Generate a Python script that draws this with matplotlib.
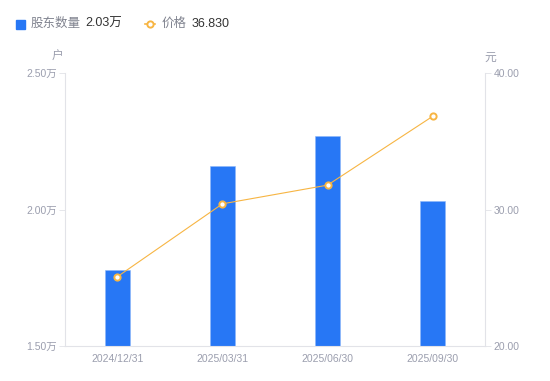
import matplotlib.pyplot as plt
from matplotlib.lines import Line2D
import numpy as np

plt.rcParams['font.family'] = ['Liberation Sans', 'Noto Sans CJK SC', 'DejaVu Sans']

dates = ['2024/12/31', '2025/03/31', '2025/06/30', '2025/09/30']
holders = [1.78, 2.16, 2.27, 2.03]   # 万户
prices = [25.08, 30.42, 31.79, 36.83]  # 元

left_ticks = [1.5, 2.0, 2.5]
left_labels = ['1.50万', '2.00万', '2.50万']
right_ticks = [20, 30, 40]
right_labels = ['20.00', '30.00', '40.00']

bar_color = '#2777F5'
line_color = '#F7B543'
tick_color = '#9B9EAE'
spine_color = '#E2E3E8'

fig = plt.figure(figsize=(5.5, 3.81), dpi=100)
ax = fig.add_axes([0.118, 0.092, 0.764, 0.716])
ax2 = ax.twinx()

x = np.arange(len(dates))
ax.bar(x, holders, width=0.24, color=bar_color, edgecolor='#8db8fa', linewidth=0.4, zorder=2)
ax.set_xlim(-0.5, len(dates) - 0.5)
ax.set_ylim(1.5, 2.5)
ax.set_yticks(left_ticks)
ax.set_yticklabels(left_labels)
ax.set_xticks(x)
ax.set_xticklabels(dates)

ax2.plot(x, prices, color=line_color, linewidth=0.8, marker='o', markersize=4.5,
         markerfacecolor='white', markeredgecolor=line_color, markeredgewidth=1.4, zorder=3)
ax2.set_ylim(20, 40)
ax2.set_yticks(right_ticks)
ax2.set_yticklabels(right_labels)

for a in (ax, ax2):
    for s in a.spines.values():
        s.set_visible(False)
    a.tick_params(labelsize=7.5, colors=tick_color, length=4, width=0.6)
ax.spines['left'].set_visible(True)
ax.spines['left'].set_color(spine_color)
ax.spines['bottom'].set_visible(True)
ax.spines['bottom'].set_color(spine_color)
ax2.spines['right'].set_visible(True)
ax2.spines['right'].set_color(spine_color)
ax.tick_params(axis='y', color=spine_color, pad=2)
ax2.tick_params(axis='y', color=spine_color, pad=2)
ax.tick_params(axis='x', length=0, pad=6)

# unit labels above the two y axes
ax.text(-0.017, 1.058, '户', transform=ax.transAxes, fontsize=8.5, color=tick_color, ha='center', va='center')
ax2.text(1.012, 1.058, '元', transform=ax2.transAxes, fontsize=8.5, color=tick_color, ha='center', va='center')

# legend row at the top
ly = 1 - 24 / 381
fig.patches.append(plt.Rectangle((16 / 550, ly - 4.5 / 381), 9 / 550, 9 / 381,
                                 transform=fig.transFigure, color=bar_color, figure=fig))
fig.text(31 / 550, ly, '股东数量', fontsize=9, color='#80838f', va='center')
fig.text(85 / 550, ly, '2.03万', fontsize=9, color='#333333', va='center')
fig.lines.append(Line2D([145 / 550, 155 / 550], [ly, ly], transform=fig.transFigure,
                        color=line_color, linewidth=1.2, figure=fig))
fig.lines.append(Line2D([150 / 550], [ly], transform=fig.transFigure, linestyle='none',
                        marker='o', markersize=4.5, markerfacecolor='white',
                        markeredgecolor=line_color, markeredgewidth=1.4, figure=fig))
fig.text(162 / 550, ly, '价格', fontsize=9, color='#80838f', va='center')
fig.text(192 / 550, ly, '36.830', fontsize=9, color='#333333', va='center')

fig.savefig('out.png', dpi=100)
